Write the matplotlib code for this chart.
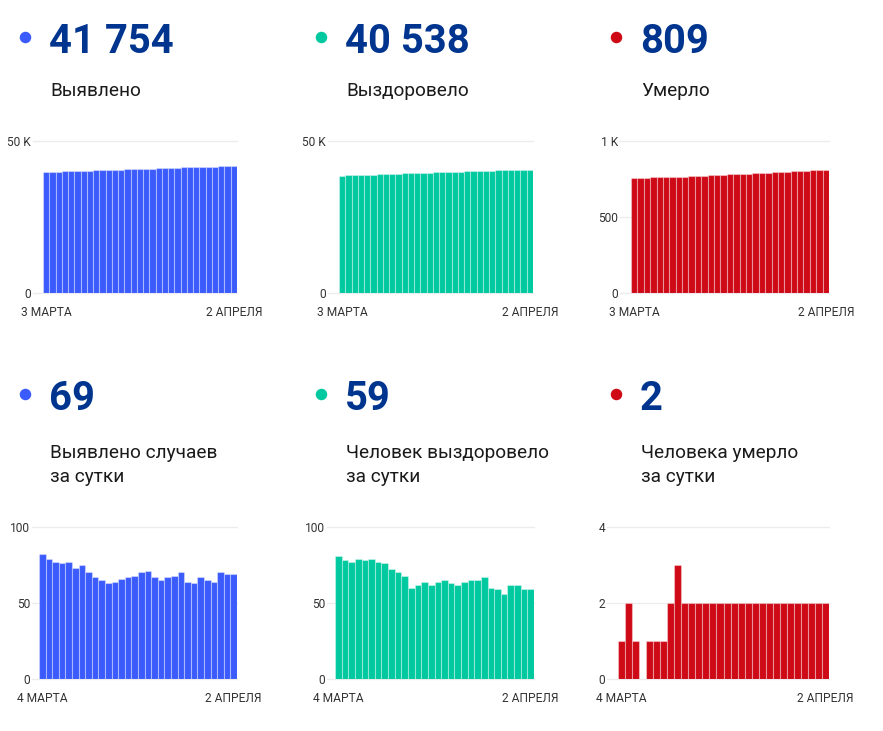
import matplotlib
matplotlib.use("Agg")
import matplotlib.pyplot as plt
from matplotlib.lines import Line2D

plt.rcParams['font.family'] = ['Roboto', 'DejaVu Sans']

W, H = 883, 731

# --- data -------------------------------------------------------------
cases_total = [39676, 39758, 39837, 39914, 39990, 40067, 40140, 40215, 40285, 40352,
               40417, 40480, 40544, 40610, 40677, 40745, 40815, 40886, 40953, 41018,
               41085, 41153, 41223, 41287, 41350, 41417, 41482, 41546, 41616, 41685,
               41754]
recovered_total = [38523, 38604, 38682, 38759, 38838, 38916, 38995, 39072, 39148, 39220,
                   39290, 39358, 39418, 39480, 39544, 39606, 39670, 39735, 39798, 39860,
                   39924, 39989, 40054, 40121, 40181, 40240, 40296, 40358, 40420, 40479,
                   40538]
deaths_total = [755, 756, 758, 759, 759, 760, 761, 762, 764, 767,
                769, 771, 773, 775, 777, 779, 781, 783, 785, 787,
                789, 791, 793, 795, 797, 799, 801, 803, 805, 807,
                809]

cases_daily = [82, 79, 77, 76, 77, 73, 75, 70, 67, 65,
               63, 64, 66, 67, 68, 70, 71, 67, 65, 67,
               68, 70, 64, 63, 67, 65, 64, 70, 69, 69]
recovered_daily = [81, 78, 77, 79, 78, 79, 77, 76, 72, 70,
                   68, 60, 62, 64, 62, 64, 65, 63, 62, 64,
                   65, 65, 67, 60, 59, 56, 62, 62, 59, 59]
deaths_daily = [1, 2, 1, 0, 1, 1, 1, 2, 3, 2,
                2, 2, 2, 2, 2, 2, 2, 2, 2, 2,
                2, 2, 2, 2, 2, 2, 2, 2, 2, 2]

top_numbers = ["41 754", "40 538", "809"]
top_titles = ["Выявлено", "Выздоровело", "Умерло"]
bottom_numbers = ["69", "59", "2"]
bottom_titles = ["Выявлено случаев\nза сутки", "Человек выздоровело\nза сутки",
                 "Человека умерло\nза сутки"]

top_ticks = [[0, 50000], [0, 50000], [0, 500, 1000]]
top_tick_labels = [["0", "50 K"], ["0", "50 K"], ["0", "500", "1 K"]]
bottom_ticks = [[0, 50, 100], [0, 50, 100], [0, 2, 4]]
bottom_tick_labels = [["0", "50", "100"], ["0", "50", "100"], ["0", "2", "4"]]

top_dates = ["3 МАРТА", "2 АПРЕЛЯ"]
bottom_dates = ["4 МАРТА", "2 АПРЕЛЯ"]

colors = ["#3b5bfd", "#00c9a0", "#cf0a17"]
number_color = "#00358f"
text_color = "#1a1a1a"

# --- layout (pixels) ---------------------------------------------------
col_x = [0, 296, 591]
# grid start, bar start, bar end
top_boxes = [(33, 43, 237), (328, 339, 533), (620, 631, 829)]
bottom_boxes = [(32, 39, 237), (327, 335, 534), (607, 618, 829)]


def px(x, y):
    return x / W, 1 - y / H


def pt(pixels):
    return pixels * 72.0 / 100


fig = plt.figure(figsize=(W / 100, H / 100), dpi=100)
fig.patch.set_facecolor("white")


def header(cx, base_y, number, color):
    dx, dy = px(cx + 25, base_y - 16)
    fig.add_artist(Line2D([dx], [dy], marker="o", markersize=pt(11.5), color=color,
                          markeredgewidth=0, transform=fig.transFigure))
    x, y = px(cx + 49, base_y)
    fig.text(x, y, number, fontsize=pt(40), fontweight="bold", color=number_color,
             va="baseline", ha="left")


def add_chart(box, y_top, y_bottom, values, ticks, tick_labels, dates, color):
    grid_left, bar_left, bar_right = box
    n = len(values)
    bar_px = (bar_right - bar_left) / n
    x0 = -0.5 - (bar_left - grid_left) / bar_px
    left, bottom = px(grid_left, y_bottom)
    ax = fig.add_axes([left, bottom, (bar_right - grid_left) / W, (y_bottom - y_top) / H])
    ax.bar(range(n), values, width=1.0, color=color, edgecolor=(1, 1, 1, 0.35),
           linewidth=0.8, zorder=3)
    ax.set_xlim(x0, n - 0.5)
    ax.set_ylim(0, ticks[-1])
    ax.set_yticks(ticks)
    ax.set_yticklabels(tick_labels)
    ax.set_xticks([0, n - 1])
    ax.set_xticklabels(dates)
    ax.yaxis.grid(True, color="#ececec", linewidth=1, zorder=0)
    ax.tick_params(axis="both", length=0, labelsize=pt(12), labelcolor="#333333")
    ax.tick_params(axis="y", pad=1.5)
    ax.tick_params(axis="x", pad=pt(12.5))
    for s in ax.spines.values():
        s.set_visible(False)
    for line in ax.get_ygridlines():
        line.set_clip_on(False)
    return ax


top_series = [cases_total, recovered_total, deaths_total]
bottom_series = [cases_daily, recovered_daily, deaths_daily]

for i in range(3):
    cx = col_x[i]
    header(cx, 53, top_numbers[i], colors[i])
    x, y = px(cx + 50, 96)
    fig.text(x, y, top_titles[i], fontsize=pt(19), color=text_color, va="baseline")
    add_chart(top_boxes[i], 140.7, 293.3, top_series[i], top_ticks[i],
              top_tick_labels[i], top_dates, colors[i])

    header(cx, 410, bottom_numbers[i], colors[i])
    x, y = px(cx + 50, 482)
    fig.text(x, y, bottom_titles[i], fontsize=pt(19), color=text_color, va="baseline",
             linespacing=1.45)
    add_chart(bottom_boxes[i], 526.7, 679.3, bottom_series[i], bottom_ticks[i],
              bottom_tick_labels[i], bottom_dates, colors[i])

fig.savefig("out.png", dpi=100, facecolor="white")
